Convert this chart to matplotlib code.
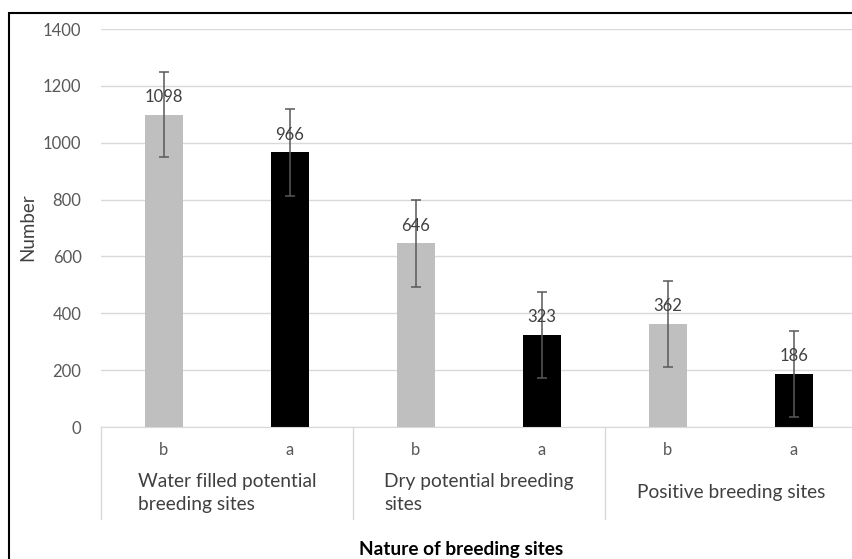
import matplotlib
matplotlib.use('Agg')
import matplotlib.pyplot as plt
from matplotlib.patches import Rectangle
import numpy as np

plt.rcParams['font.family'] = ['Lato', 'DejaVu Sans']

GROUPS = ['Water filled potential\nbreeding sites',
          'Dry potential breeding\nsites',
          'Positive breeding sites']
LETTERS = ['b', 'a', 'b', 'a', 'b', 'a']
VALUES = [1098, 966, 646, 323, 362, 186]
ERRORS = [150, 153, 153, 152, 152, 152]
BAR_COLORS = ['#bfbfbf', '#000000'] * 3

fig = plt.figure(figsize=(8.53, 5.59), dpi=100)
ax = fig.add_axes([101 / 853, 1 - 427 / 559, 756 / 853, 398 / 559])

x = np.arange(len(VALUES))
ax.bar(x, VALUES, width=0.3, color=BAR_COLORS, zorder=2)
ax.errorbar(x, VALUES, yerr=ERRORS, fmt='none', ecolor='#595959',
            elinewidth=1.1, capsize=3.6, capthick=1.1, zorder=3)
for xi, v in zip(x, VALUES):
    ax.annotate(str(v), (xi, v), xytext=(0, 7), textcoords='offset points',
                ha='center', va='bottom', fontsize=12, color='#404040', zorder=4)

ax.set_xlim(-0.5, len(VALUES) - 0.5)
ax.set_ylim(0, 1400)
ax.set_yticks(np.arange(0, 1401, 200))
ax.yaxis.grid(True, color='#d9d9d9', lw=1.0)
ax.set_axisbelow(True)
for s in ['top', 'right', 'left']:
    ax.spines[s].set_visible(False)
ax.spines['bottom'].set_color('#d9d9d9')
ax.tick_params(axis='y', length=0, pad=14, labelsize=12, labelcolor='#595959')
ax.set_xticks([])

trans = ax.get_xaxis_transform()
for xi, lt in zip(x, LETTERS):
    ax.text(xi, -0.058, lt, transform=trans, ha='center', va='center',
            fontsize=12, color='#595959')
for g, name in enumerate(GROUPS):
    ax.text(2 * g + 0.5, -0.165, name, transform=trans, ha='center', va='center',
            multialignment='left', fontsize=13.8, color='#404040', linespacing=1.45)
for b in [-0.5, 1.5, 3.5]:
    ax.plot([b, b], [0, -0.232], transform=trans, color='#d9d9d9', lw=1.0,
            clip_on=False)

fig.text(28 / 853, 1 - 227 / 559, 'Number', rotation=90, ha='center', va='center',
         fontsize=13.5, color='#404040')
fig.text(461 / 853, 1 - 550 / 559, 'Nature of breeding sites', ha='center',
         va='center', fontsize=13.7, fontweight='bold', color='#000000')

fig.patches.append(Rectangle((9 / 853, -0.05), 1.0, 1 - 12.5 / 559 + 0.05,
                             transform=fig.transFigure, fill=False,
                             edgecolor='black', lw=1.5))

fig.savefig('out.png', dpi=100)
